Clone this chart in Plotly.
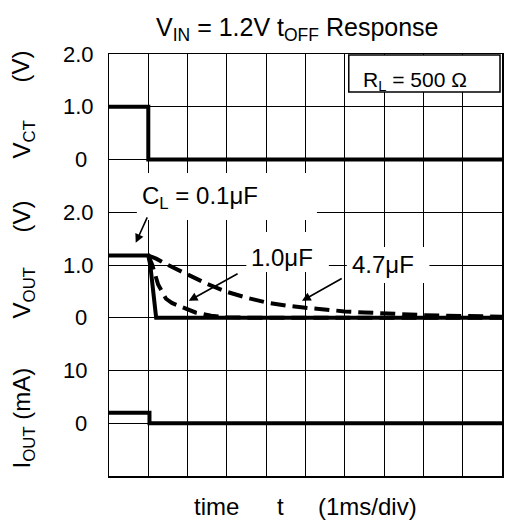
import plotly.graph_objects as go

# ---------------- data (time in ms, 1 ms/div) ----------------
t_ct = [0, 1.0, 1.0, 10]
v_ct = [1.0, 1.0, 0.0, 0.0]

t_iout = [0, 1.03, 1.03, 10]
i_out = [2.0, 2.0, 0.0, 0.0]

t_01 = [0, 1.0, 1.05, 1.2, 10]
v_01 = [1.18, 1.18, 1.0, 0.0, 0.0]

t_10 = [1.0, 1.1, 1.25, 1.45, 1.6, 1.8, 2.2, 2.6, 3.0, 3.5, 10]
v_10 = [1.18, 1.0, 0.63, 0.36, 0.28, 0.22, 0.10, 0.04, 0.01, 0.0, 0.0]

t_47 = [1.0, 1.2, 1.5, 2.0, 2.5, 3.0, 3.5, 4.0, 4.5, 5.0, 5.5, 6.0, 6.5, 7.0,
        7.5, 8.0, 8.5, 9.0, 9.5, 10]
v_47 = [1.18, 1.12, 1.0, 0.82, 0.64, 0.49, 0.38, 0.29, 0.23, 0.19, 0.15, 0.12,
        0.10, 0.08, 0.07, 0.05, 0.04, 0.03, 0.02, 0.02]

vct_ticks = [0, 1, 2]
vct_ticktext = ["0", "1.0", "2.0"]
vout_ticks = [0, 1, 2]
vout_ticktext = ["0", "1.0", "2.0"]
iout_ticks = [0, 10]
iout_ticktext = ["0", "10"]

# ---------------- geometry helpers ----------------
W, H = 505, 524
L, R, T, B = 109, 1, 54, 48
PW, PH = W - L - R, H - T - B
FONT = "Liberation Sans, Arial, sans-serif"


def px(xp):
    return (xp - L) / PW


def py(yp):
    return (H - B - yp) / PH


fig = go.Figure()
fig.add_trace(go.Scatter(x=t_ct, y=v_ct, yaxis="y", mode="lines",
                         line=dict(color="black", width=4), showlegend=False))
fig.add_trace(go.Scatter(x=t_47, y=v_47, yaxis="y2", mode="lines",
                         line=dict(color="black", width=4, dash="15px,7px"),
                         showlegend=False))
fig.add_trace(go.Scatter(x=t_10, y=v_10, yaxis="y2", mode="lines",
                         line=dict(color="black", width=4, dash="15px,7px"),
                         showlegend=False))
fig.add_trace(go.Scatter(x=t_01, y=v_01, yaxis="y2", mode="lines",
                         line=dict(color="black", width=4), showlegend=False))
fig.add_trace(go.Scatter(x=t_iout, y=i_out, yaxis="y3", mode="lines",
                         line=dict(color="black", width=4), showlegend=False))

ann = []
# tick labels
for axis, vals, txts in (("y", vct_ticks, vct_ticktext),
                         ("y2", vout_ticks, vout_ticktext),
                         ("y3", iout_ticks, iout_ticktext)):
    for v, s in zip(vals, txts):
        right = 96 if "." in s else 89
        ann.append(dict(x=px(right), xref="paper", y=v, yref=axis, text=s,
                        showarrow=False, xanchor="right", yanchor="middle",
                        font=dict(size=22, family=FONT, color="black")))


def label(text, xc, yc, size, angle=0):
    ann.append(dict(x=px(xc), xref="paper", y=py(yc), yref="paper",
                    text=text, textangle=angle, showarrow=False,
                    xanchor="center", yanchor="middle",
                    font=dict(size=size, family=FONT, color="black")))


# axis titles (rotated)
label("(V)", 21, 66, 24, -90)
label("V<sub>CT</sub>", 23, 139, 24, -90)
label("(V)", 21, 216, 24, -90)
label("V<sub>OUT</sub>", 23, 293, 24, -90)
label("I<sub>OUT</sub> (mA)", 23, 418, 24, -90)

# x-axis title pieces
label("time", 217, 506, 24)
label("t", 281, 506, 24)
label("(1ms/div)", 369, 506, 24)

# title
label("V<sub>IN</sub> = 1.2V t<sub>OFF</sub> Response", 298, 29, 25)

# in-plot labels
label("R<sub>L</sub> = 500 Ω", 417, 81, 21)
label("C<sub>L</sub> = 0.1μF", 200, 197, 24)
label("1.0μF", 283, 257, 24)
label("4.7μF", 384, 264, 24)

# arrows (tip, tail) in time / V_OUT coordinates
for tip, tail in (((0.68, 1.42), (0.99, 1.93)),
                  ((2.03, 0.32), (3.31, 0.85)),
                  ((4.91, 0.32), (5.96, 0.76))):
    ann.append(dict(x=tip[0], y=tip[1], xref="x", yref="y2",
                    ax=tail[0], ay=tail[1], axref="x", ayref="y2",
                    text="", showarrow=True, arrowhead=2, arrowsize=1.1,
                    arrowwidth=1.6, arrowcolor="black"))

shapes = []
# white label backgrounds hiding grid lines
for x0, x1, y0, y1 in ((137, 318, 173, 220), (247, 330, 232, 272),
                       (348, 431, 247, 283)):
    shapes.append(dict(type="rect", xref="paper", yref="paper",
                       x0=px(x0), x1=px(x1), y0=py(y1), y1=py(y0),
                       fillcolor="white", line=dict(width=0), layer="above"))
shapes.append(dict(type="rect", xref="paper", yref="paper",
                   x0=px(350), x1=px(502), y0=py(92), y1=py(55),
                   fillcolor="white", line=dict(color="black", width=1.5),
                   layer="above"))

fig.update_layout(
    width=W, height=H,
    margin=dict(l=L, r=R, t=T, b=B),
    paper_bgcolor="white", plot_bgcolor="white",
    font=dict(family=FONT, color="black"),
    hovermode=False,
    xaxis=dict(range=[0, 10], dtick=1, tick0=0, showgrid=True,
               gridcolor="black", gridwidth=1, showticklabels=False,
               ticks="", zeroline=False, showline=True, mirror=True,
               linecolor="black", linewidth=1.5, fixedrange=True),
    yaxis=dict(range=[-6, 2], dtick=1, tick0=0, showgrid=True,
               gridcolor="black", gridwidth=1, showticklabels=False,
               ticks="", zeroline=False, showline=True, mirror=True,
               linecolor="black", linewidth=1.5),
    yaxis2=dict(range=[-3, 5], overlaying="y", showgrid=False,
                showticklabels=False, ticks="", zeroline=False,
                showline=False),
    yaxis3=dict(range=[-10, 70], overlaying="y", showgrid=False,
                showticklabels=False, ticks="", zeroline=False,
                showline=False),
    annotations=ann,
    shapes=shapes,
)

fig.write_html(
    "out.html",
    config={"displayModeBar": False, "staticPlot": True},
    post_script="document.body.style.margin='0';"
                "document.documentElement.style.overflow='hidden';",
)
